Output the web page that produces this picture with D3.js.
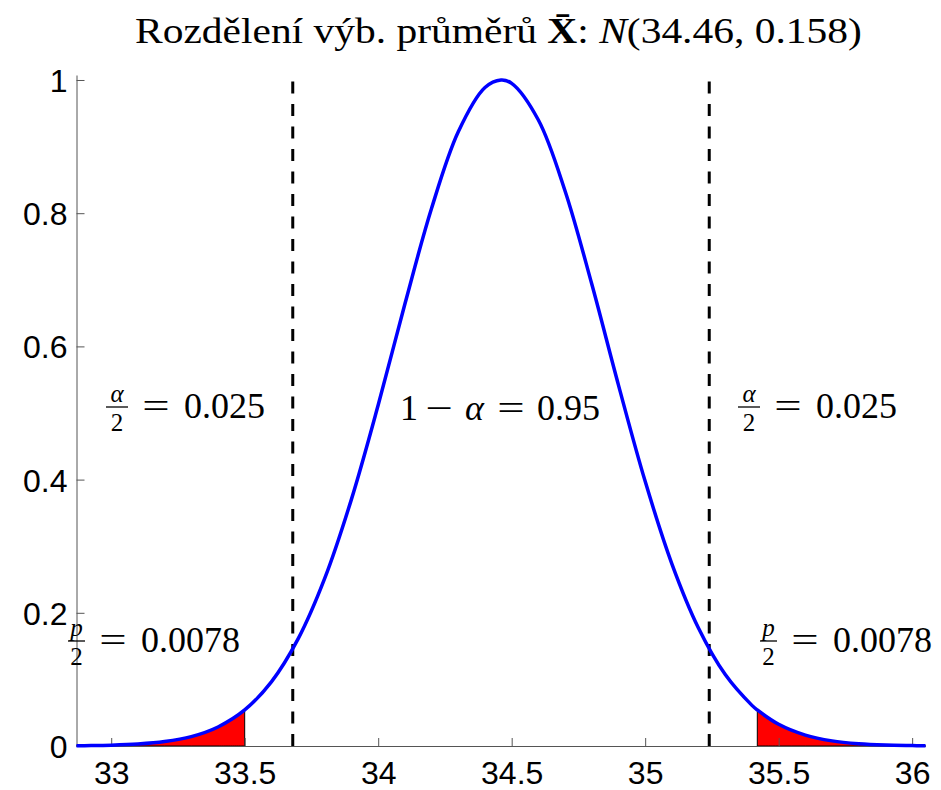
<!DOCTYPE html>
<html>
<head>
    <meta charset="utf-8">
    <title>Rozdělení výběrových průměrů</title>
    <style>
        body, html {
            margin: 0;
            padding: 0;
            width: 100%;
            height: 100%;
            overflow: hidden;
            background: #fff;
        }
        .tick text {
            font-family: "Liberation Sans", Arial, sans-serif;
            font-size: 32px;
            fill: #000;
        }
        .math {
            font-family: "Liberation Serif", "Times New Roman", serif;
            fill: #000;
        }
    </style>
    <script src="https://d3js.org/d3.v7.min.js"></script>
</head>
<body>

<svg id="chart" width="941" height="790"></svg>

<script>
// values (curve scaled so that the peak is 1)
const curveX = [32.87, 32.9, 33.0, 33.1, 33.2, 33.3, 33.4, 33.5, 33.6, 33.7, 33.8, 33.9,
                34.0, 34.1, 34.2, 34.3, 34.4, 34.46, 34.5, 34.6, 34.7, 34.8, 34.9,
                35.0, 35.1, 35.2, 35.3, 35.4, 35.42, 35.5, 35.6, 35.7, 35.8, 35.9, 36.0, 36.05];
const curveY = [0.0003, 0.0005, 0.0012, 0.0029, 0.0066, 0.0141, 0.0286, 0.0541, 0.0963, 0.1608, 0.2520, 0.3707,
                0.5119, 0.6636, 0.8074, 0.9222, 0.9887, 1.0, 0.9950, 0.9399, 0.8334, 0.6936, 0.5419,
                0.3974, 0.2736, 0.1768, 0.1072, 0.0610, 0.0541, 0.0326, 0.0164, 0.0077, 0.0034, 0.0014, 0.0006, 0.0003];
const criticalX = [33.68, 35.24];      // dashed lines (alpha = 0.05)
const tailLimits = [33.5, 35.42];      // red tails (p/2 = 0.0078)
const xTicks = [33, 33.5, 34, 34.5, 35, 35.5, 36];
const yTicks = [0, 0.2, 0.4, 0.6, 0.8, 1];
const xDomain = [32.87, 36.05];
const yDomain = [0, 1.0075];

const points = curveX.map((x, i) => ({x: x, y: curveY[i]}));

const svg = d3.select('#chart');

const x = d3.scaleLinear().domain(xDomain).range([76.5, 925.5]);
const y = d3.scaleLinear().domain(yDomain).range([746, 75]);

// red tails
const area = d3.area()
    .x(d => x(d.x))
    .y0(y(0))
    .y1(d => y(d.y))
    .curve(d3.curveCatmullRom);

svg.append('path')
    .datum(points.filter(d => d.x <= tailLimits[0]))
    .attr('d', area)
    .attr('fill', '#ff0000')
    .attr('stroke', '#000')
    .attr('stroke-width', 1);

svg.append('path')
    .datum(points.filter(d => d.x >= tailLimits[1]))
    .attr('d', area)
    .attr('fill', '#ff0000')
    .attr('stroke', '#000')
    .attr('stroke-width', 1);

// axes, ticks pointing inwards
svg.append('g')
    .attr('transform', `translate(0,${y(0)})`)
    .call(d3.axisBottom(x)
        .tickValues(xTicks)
        .tickFormat(d => String(d))
        .tickSizeInner(-8)
        .tickSizeOuter(0)
        .tickPadding(15));

const yAxis = svg.append('g')
    .attr('transform', `translate(${x(xDomain[0])},0)`)
    .call(d3.axisLeft(y)
        .tickValues(yTicks)
        .tickFormat(d => String(+d.toFixed(1)))
        .tickSizeInner(-8)
        .tickSizeOuter(0)
        .tickPadding(9));

svg.selectAll('.domain, .tick line')
    .attr('stroke', '#555')
    .attr('stroke-width', 1);
yAxis.selectAll('.tick text').attr('dy', '0.36em');

// dashed critical lines
svg.selectAll('.crit')
    .data(criticalX)
    .enter().append('line')
    .attr('class', 'crit')
    .attr('x1', d => x(d))
    .attr('x2', d => x(d))
    .attr('y1', y(0))
    .attr('y2', y(yDomain[1]))
    .attr('stroke', '#000')
    .attr('stroke-width', 3)
    .attr('stroke-dasharray', '12,10.5');

// density curve
svg.append('path')
    .datum(points)
    .attr('d', d3.line().x(d => x(d.x)).y(d => y(d.y)).curve(d3.curveCatmullRom))
    .attr('fill', 'none')
    .attr('stroke', '#0000ff')
    .attr('stroke-width', 3.5);

// title, stretched a bit to the width of the TeX original
const title = svg.append('text')
    .attr('class', 'math')
    .attr('x', 0)
    .attr('y', 0)
    .style('font-size', '36px');
title.append('tspan').text('Rozdělení výb. průměrů ');
title.append('tspan').attr('font-weight', 'bold').text('X\u0304');
title.append('tspan').text(': ');
title.append('tspan').attr('font-style', 'italic').text('N');
title.append('tspan').text('(34.46, 0.158)');
const titleW = title.node().getComputedTextLength();
title.attr('transform', `translate(135,43) scale(${727 / titleW},1)`);

// fraction labels
function fracLabel(left, base, num, barW, value) {
    const g = svg.append('g').attr('class', 'math');
    g.append('text')
        .attr('x', left + barW / 2).attr('y', base - 16)
        .attr('text-anchor', 'middle')
        .attr('font-style', 'italic')
        .style('font-size', '25px')
        .text(num);
    g.append('line')
        .attr('x1', left).attr('x2', left + barW)
        .attr('y1', base - 11).attr('y2', base - 11)
        .attr('stroke', '#000').attr('stroke-width', 1.3);
    g.append('text')
        .attr('x', left + barW / 2).attr('y', base + 13)
        .attr('text-anchor', 'middle')
        .style('font-size', '25px')
        .text('2');
    g.append('text')
        .attr('transform', `translate(${left + barW + 28},${base}) scale(1.35,1)`)
        .attr('text-anchor', 'middle')
        .style('font-size', '36px')
        .text('=');
    g.append('text')
        .attr('x', left + barW + 56).attr('y', base)
        .style('font-size', '36px')
        .text(value);
}

fracLabel(106, 418, 'α', 22, '0.025');
fracLabel(738, 418, 'α', 22, '0.025');
fracLabel(68, 652, 'p', 17, '0.0078');
fracLabel(760, 652, 'p', 17, '0.0078');

// 1 - alpha = 0.95, pieces spaced like TeX
const midBase = 420;
const mid = svg.append('g').attr('class', 'math').style('font-size', '36px');
mid.append('text').attr('x', 400).attr('y', midBase).text('1');
mid.append('text')
    .attr('transform', `translate(439,${midBase}) scale(1.35,1)`)
    .attr('text-anchor', 'middle').text('−');
mid.append('text').attr('x', 465).attr('y', midBase).attr('font-style', 'italic').text('α');
mid.append('text')
    .attr('transform', `translate(511,${midBase}) scale(1.35,1)`)
    .attr('text-anchor', 'middle').text('=');
mid.append('text').attr('x', 537).attr('y', midBase).text('0.95');
</script>

</body>
</html>
